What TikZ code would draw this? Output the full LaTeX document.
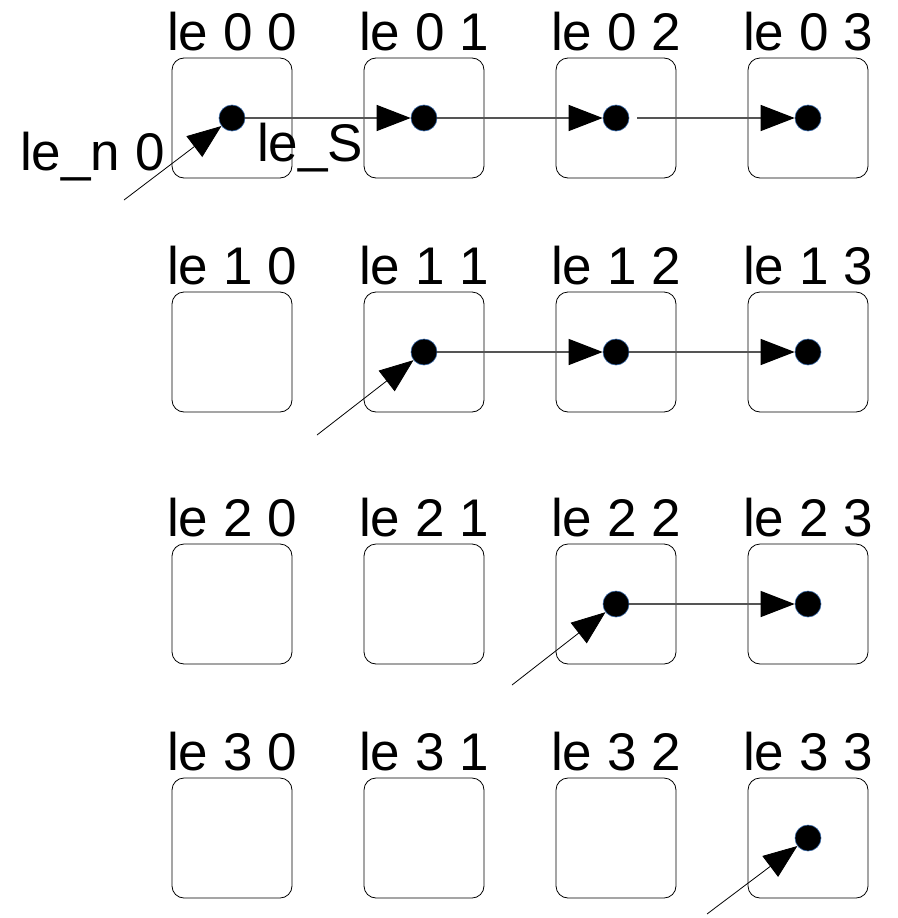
\documentclass[tikz,border=0pt]{standalone}
\usepackage{fontspec}
\setmainfont{Liberation Sans}
\usetikzlibrary{
  positioning,
  arrows.meta,
}
\definecolor{dotRim}{HTML}{3465A4}
\definecolor{linkCol}{HTML}{555555}
\tikzset{
  cell/.style={
    rectangle, rounded corners=12pt, draw=black, line width=0.8pt,
    minimum width=120pt, minimum height=120pt,
  },
  celltag/.style={anchor=base, font=\fontsize{53}{60}\selectfont, inner sep=0pt},
  sidetag/.style={anchor=base west, font=\fontsize{53}{60}\selectfont, inner sep=0pt},
  elem/.style={circle, fill=black, draw=dotRim, line width=0.6pt, minimum size=26pt, inner sep=0pt},
  link/.style={-{Triangle[length=34pt,width=26pt,color=black,fill=black]}, linkCol, line width=1.2pt},
  entry/.style={-{Triangle[length=34pt,width=26pt]}, black, line width=0.8pt},
}

\begin{document}
\begin{tikzpicture}[x=1pt, y=-1pt]

  \useasboundingbox (0,0) rectangle (897,918);

  % Grid of cells with their tags
  \foreach \r/\y in {0/118, 1/352, 2/604, 3/838} {
    \foreach \c in {0,...,3} {
      \node[cell] (b\r\c) at ({232+192*\c}, \y) {};
      \node[celltag] (t\r\c) at ({232+192*\c}, \y-68) {le \r{} \c};
    }
  }

  % Elements
  \node[elem] (d00) at (b00) {};
  \node[elem] (d01) at (b01) {};
  \node[elem] (d02) at (b02) {};
  \node[elem] (d03) at (b03) {};
  \node[elem] (d11) at (b11) {};
  \node[elem] (d12) at (b12) {};
  \node[elem] (d13) at (b13) {};
  \node[elem] (d22) at (b22) {};
  \node[elem] (d23) at (b23) {};
  \node[elem] (d33) at (b33) {};

  % Row links
  \draw[link] (d00) -- (d01);
  \draw[link] (d01) -- (d02);
  \draw[link, shorten <=8pt] (d02) -- (d03);
  \draw[link] (d11) -- (d12);
  \draw[link] (d12) -- (d13);
  \draw[link] (d22) -- (d23);

  % Entry pointers
  \coordinate (in0) at (124, 200);
  \coordinate (in1) at (317, 435);
  \coordinate (in2) at (512, 685);
  \coordinate (in3) at (707, 914);
  \draw[entry] (in0) -- (d00);
  \draw[entry] (in1) -- (d11);
  \draw[entry] (in2) -- (d22);
  \draw[entry] (in3) -- (d33);

  \node[sidetag] (lblN) at (20, 170) {le\_n 0};
  \node[sidetag] (lblS) at (257, 161) {le\_S};

\end{tikzpicture}
\end{document}
